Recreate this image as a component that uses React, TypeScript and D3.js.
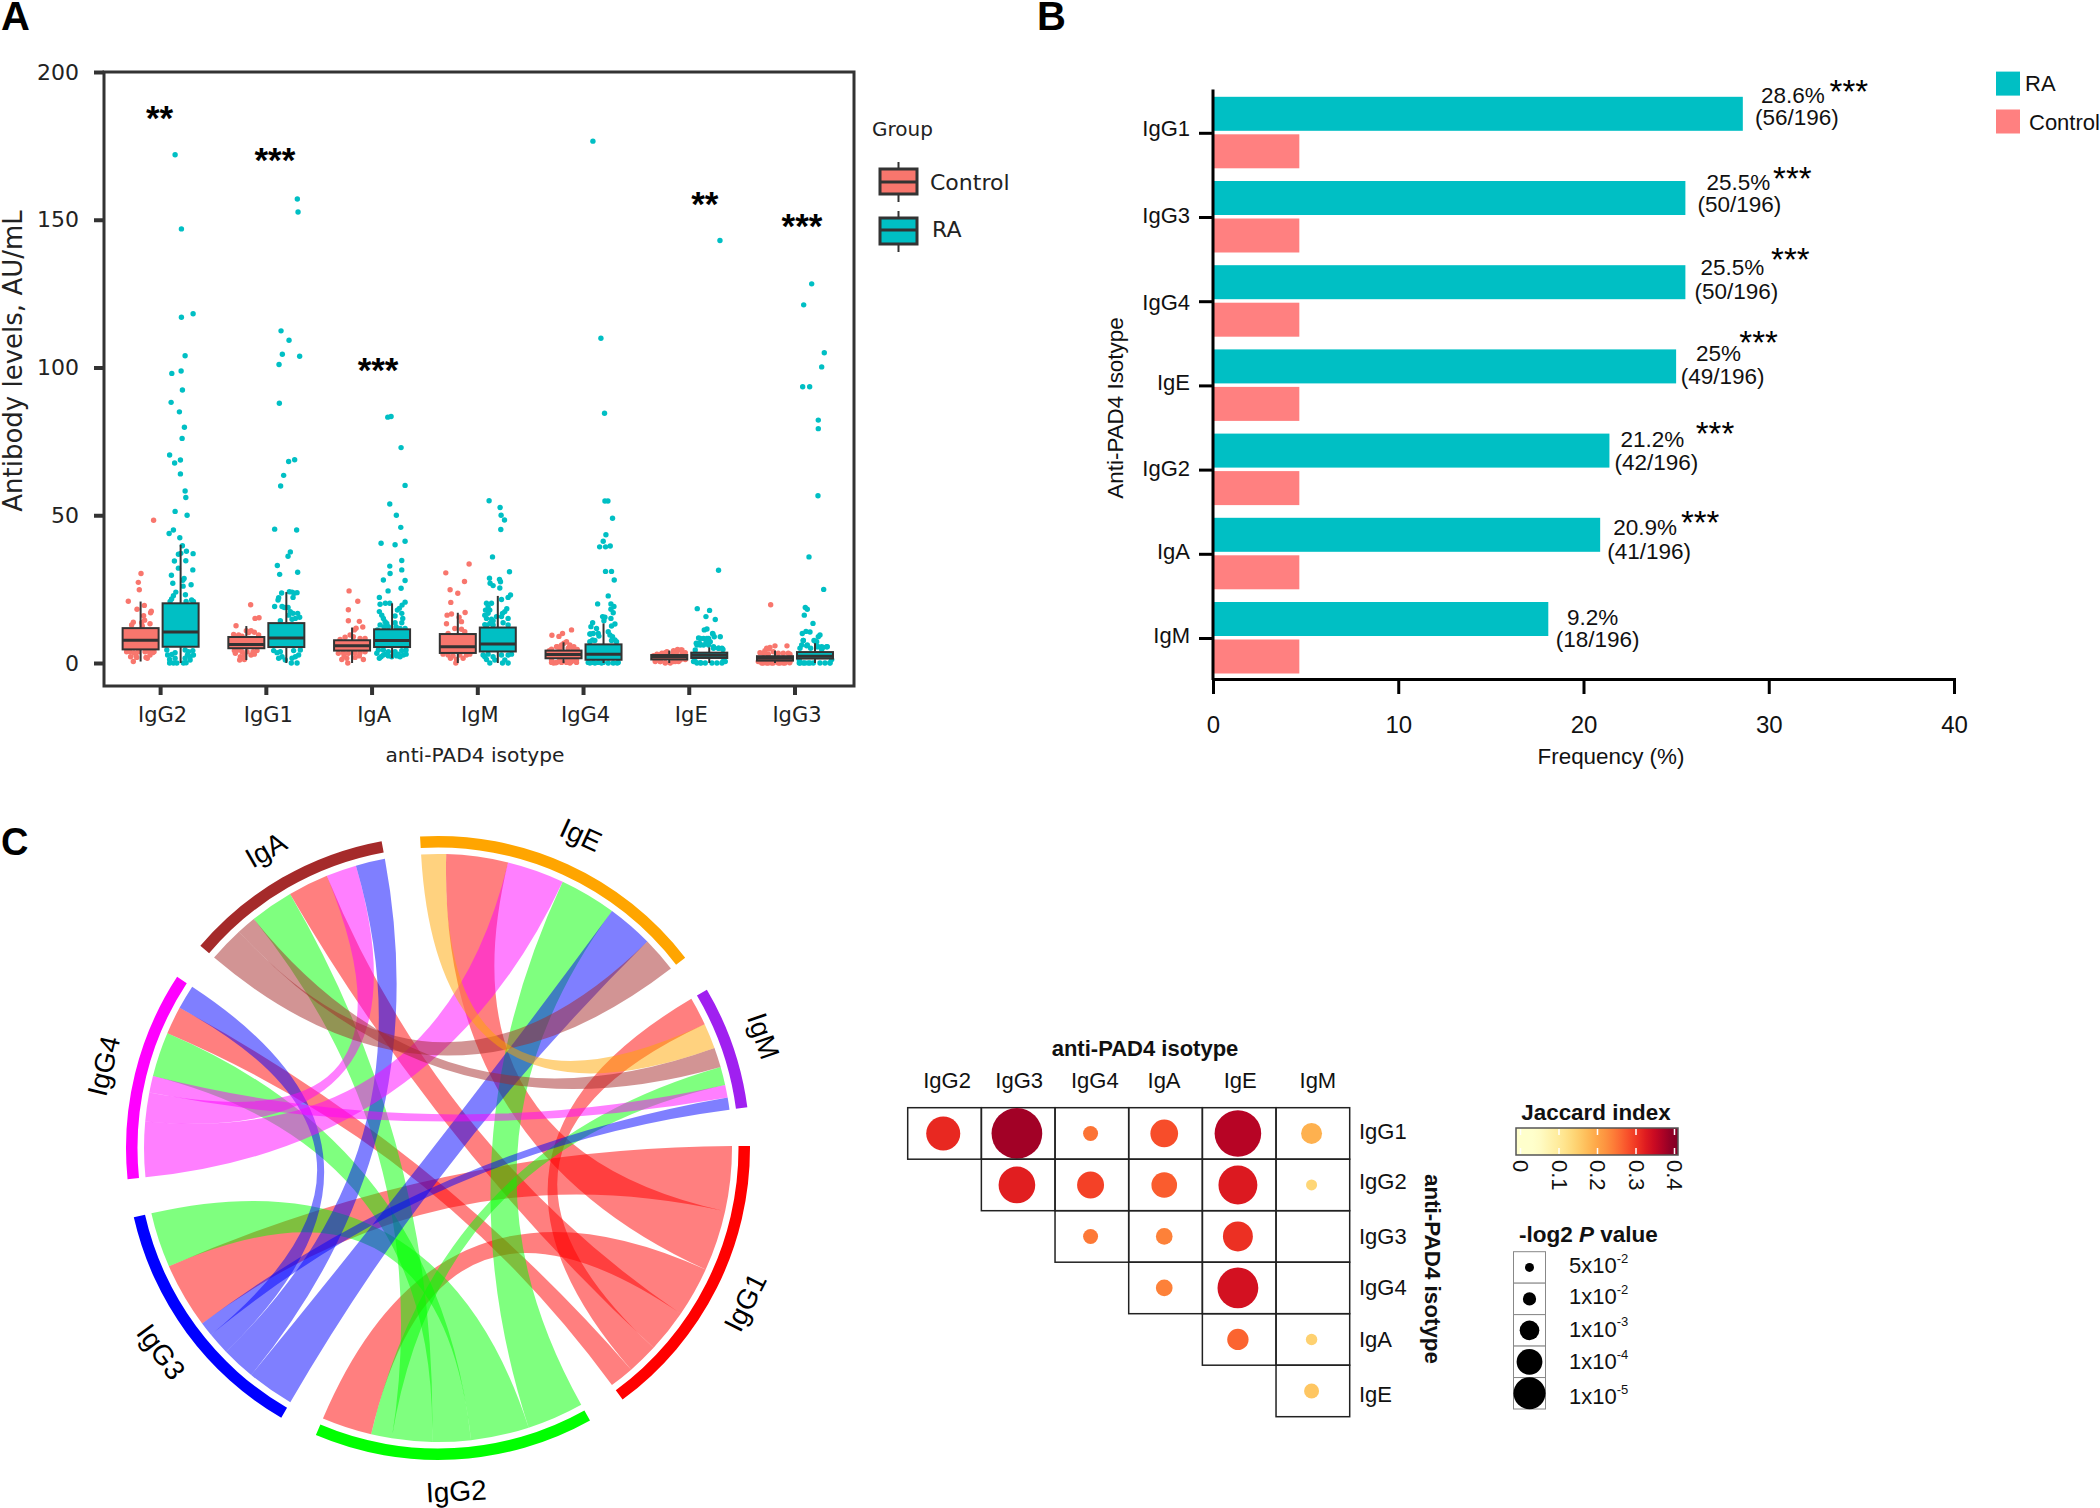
import { useRef, useEffect } from 'react';
import * as d3 from 'd3';

type Pt = [number, number];
type Sel = d3.Selection<any, any, any, any>;

const ARIAL = 'Liberation Sans, Arial, sans-serif';
const DEJAVU = 'DejaVu Sans, sans-serif';

// ---- Panel A: box + jitter. Points are [jitter, AU/mL], jitter spans -18..18 over a box width
const BOX_ISOTYPES = ['IgG2', 'IgG1', 'IgA', 'IgM', 'IgG4', 'IgE', 'IgG3'];
const BOX_GROUPS = ['Control', 'RA'];
const Y_TICKS = [0, 50, 100, 150, 200];
// [low, q1, median, q3, high]
const CONTROL_BOXES = [
  [0.5, 4.6, 7.7, 11.8, 20.8],
  [1, 5, 6.3, 8.8, 12.5],
  [0, 4.2, 5.8, 7.7, 12],
  [0, 3.4, 5.5, 9.8, 17],
  [0, 1.6, 2.9, 4.2, 7],
  [0, 1.2, 2.1, 2.7, 4.2],
  [0, 0.8, 1.6, 2.3, 4.2],
];
const RA_BOXES = [
  [0, 5.5, 10.5, 20.2, 40],
  [0, 5.4, 8.5, 13.5, 24],
  [1.6, 5.4, 7.6, 11.4, 20.2],
  [0, 3.9, 6.4, 12, 22.7],
  [0, 1.1, 3, 6.3, 13.4],
  [0, 1.7, 2.6, 3.5, 5.3],
  [0, 1.5, 2.3, 3.7, 6.7],
];
const SIG_LABELS = ['**', '***', '***', '', '', '**', '***'];
const SIG_LEVELS = [186, 172, 101, 0, 0, 157, 149.6];
const SIG_NUDGE = [-1, 8.6, 6, 0, 0, 15.6, 7];

const IGG2_CONTROL: Pt[] = [[13, 48.3], [0.4, 30.3], [-2.3, 27.3], [-1.3, 24.8], [-12.3, 20.9], [-3.6, 18.2], [3.7, 19.5], [10.7, 17.5], [10, 17], [3, 16], [4, 14.5], [-7.3, 13.8], [-9, 12.9], [1, 13.6], [1.7, 12.5], [9.4, 13.3], [-14, 3.8], [-10.6, 3.8], [-6.6, 3.5], [-2.3, 3.8], [4.4, 3.8], [8.7, 3.8], [13.4, 3.8], [-10, 2.1], [-4.6, 2.4], [5.4, 1.9], [9.4, 2.7], [12, 3.5], [-7.3, 0.5], [-3.9, 1.9], [6.7, 1.6]];
const IGG2_RA: Pt[] = [[-5.5, 172], [0.8, 146.9], [0.8, 117], [12.5, 118.2], [4.5, 104], [0.5, 98.8], [-8.8, 98], [1.8, 92.4], [-9.5, 88.2], [-1.2, 85], [3.8, 79.8], [1.5, 76], [-11, 70.4], [-6, 67.7], [-0.2, 68.7], [-0.2, 64], [4.5, 58.2], [5.2, 56], [-5.5, 51.3], [6.5, 50], [-7.2, 45], [-11.5, 43.8], [-0.8, 42.4], [1.8, 39.7], [-2.2, 36.8], [0.2, 37.1], [5.8, 37.8], [12.5, 37], [-6.2, 34.5], [5.2, 34.6], [-2.2, 32.1], [12.2, 31.5], [-9.2, 29.7], [3.5, 28.6], [2.2, 28], [-7.8, 27], [10.5, 26.5], [2.5, 26], [-4.8, 24], [4.8, 23.1], [-7.2, 22.8], [-9, 21.7], [-10.5, 20.8], [5.5, 20.8], [11, 21.3], [12.8, 20.8], [-13, 2.7], [-8.8, 2.9], [7.8, 3.8], [12.2, 4.2], [4.5, 4.4], [-5.5, 3.5], [-11, 1.2], [-5.5, 1.6], [4.5, 1.6], [9.5, 2.1], [-11, 0], [-7.2, 0], [-3.8, 0], [2.8, 0], [5.5, 0.1], [9.5, 1], [12.8, 2.7], [6.8, 2.7], [-13.8, 4.4]];
const IGG1_CONTROL: Pt[] = [[4.3, 19.7], [8.7, 15.1], [12.7, 15.3], [-10.3, 12.6], [4.7, 10.9], [8, 10.4], [12.3, 9.5], [-12.7, 9.7], [-7.7, 9.5], [-4.3, 9.1], [0, 10.9], [2.3, 10.3], [-12, 4.2], [-7.7, 4.4], [-4.3, 3.8], [0.7, 3.8], [6.7, 3.8], [10.7, 4.2], [-11, 3.3], [-6, 2.1], [-2, 2.7], [-6.7, 1], [-2, 1.2], [8, 3], [4.7, 2.7]];
const IGG1_RA: Pt[] = [[11, 157], [11.7, 152.6], [-5.3, 112.4], [2.7, 109.2], [-4, 104.5], [13.3, 103.8], [-7.3, 101], [-7, 87.9], [2.3, 68.2], [8.3, 68.8], [-2.7, 63.5], [-5.7, 59.9], [-11.7, 45.3], [10.3, 45], [4, 37.6], [1.7, 36.1], [-9, 33], [-6.7, 30], [11.3, 30.7], [-4.7, 23.7], [3, 24.1], [5.7, 24], [8, 23.6], [10.7, 23.8], [6.7, 22.2], [-7.7, 22.1], [-8.3, 21.3], [-11.7, 19.1], [-4.3, 19.1], [-2, 18.8], [1.7, 18.8], [4, 17.4], [2.3, 16.2], [6.7, 16.8], [11.3, 16.8], [13.3, 15.5], [9, 15.1], [-6, 14.3], [5.7, 14.8], [-12.7, 4.2], [-6, 3.8], [-9.3, 3.5], [7.3, 4.2], [12.3, 2.7], [9, 2.1], [-4.3, 2.1], [14, 4.4], [5, 0], [10.7, 0], [-1, 1], [-7.7, 1.6], [5.7, 1.6]];
const IGA_CONTROL: Pt[] = [[-3, 24.4], [5.7, 20.9], [-3.7, 18], [-3.7, 14.3], [7.3, 14.1], [10.7, 12.2], [4, 11.8], [2.3, 11.2], [-2, 9.5], [-7, 8.7], [-12, 8], [13, 8.3], [8, 8.3], [1.3, 8.9], [-13.7, 3.3], [-8.7, 3.5], [-3.7, 3.3], [3, 3.5], [8, 3.5], [13, 3.8], [-10.3, 1.2], [-5.3, 1.6], [-4.3, 0], [3, 1.9], [11.3, 1.2], [-8, 2.4], [7.3, 2.4]];
const IGA_RA: Pt[] = [[-4.3, 83.2], [-1, 83.4], [9, 72.9], [13, 60.1], [-2.3, 53.8], [4.3, 50], [8.7, 45.9], [-11, 40.5], [3, 40], [13, 41.2], [9.7, 34.7], [-2.3, 32.8], [9.7, 31.5], [-2, 30.3], [-8.7, 28.1], [13, 27.9], [9, 25.3], [-4, 24.4], [-12.7, 22.2], [13, 20.6], [-12, 19.9], [-6.7, 20.2], [-2.3, 20.2], [10, 19.6], [7.3, 18.5], [5.3, 17.9], [-12.7, 17.4], [-10.3, 16.2], [-8.7, 15.1], [-7, 14], [3, 15.9], [9.7, 16.8], [10.7, 15.1], [3, 13.6], [9.7, 13.6], [-12, 12.9], [-8, 12.3], [8, 11.7], [-13.7, 4.4], [-8.7, 4.4], [-3.7, 3.8], [3, 3.8], [9.7, 4.2], [14, 4.4], [-12.7, 1.6], [-8.7, 2.7], [-3.7, 2.4], [4.7, 2.4], [11.3, 2.7], [8, 2.1], [-15.3, 3.3], [-11, 2.1], [-6.3, 3], [-0.3, 2.1], [6.3, 3], [14, 3], [2, 3], [-14.7, 11.2], [-3.7, 12.3], [4, 12.3], [13, 11.7], [-5.3, 13.4]];
const IGM_CONTROL: Pt[] = [[11.3, 33.5], [-12, 30.5], [6.7, 27.6], [-7.7, 24.8], [0, 23.6], [-7, 20.5], [7.3, 17.1], [-10.7, 16.2], [-6.3, 16.6], [1.3, 15.5], [3.7, 14], [-11.3, 13.3], [-3, 11.7], [3.7, 11.4], [7, 10.6], [-9.7, 10], [-14.7, 3], [-9.7, 2.7], [-4.7, 2.4], [2, 2.7], [8.7, 2.7], [-7.3, 1.6], [-1.3, 1.2], [5.3, 1.6], [-2, 0], [12, 3]];
const IGM_RA: Pt[] = [[-8.7, 54.9], [2.3, 52.6], [3.3, 50], [6.7, 48.4], [3, 45.2], [-5.3, 35.9], [11.7, 30.9], [-8.3, 28.7], [1.7, 28.3], [2.7, 27.5], [-7.7, 27], [-4.7, 26.2], [2, 25.4], [12.7, 23], [10.3, 22.2], [3.7, 21.5], [-11.3, 20.2], [-6.3, 20.2], [-12.3, 17.9], [-8, 17.9], [-9.7, 16.8], [9, 18.4], [4.7, 16.8], [7, 17.4], [-11.3, 15.1], [-6.3, 14.8], [10.3, 15.1], [-8, 13.4], [5.3, 13.6], [-4.7, 12.9], [10.3, 12.9], [-14.7, 2.7], [-9.7, 3], [-4.7, 2.1], [3.7, 2.7], [10.3, 2.7], [13.7, 3], [-11.3, 1.2], [-8, 0], [-3, 1], [7, 1], [10.3, 0], [4.7, 0], [-13, 2.1], [-13, 13], [-4.7, 14.3], [-1.3, 15.7], [3.7, 15.7], [-11.3, 12.7], [-9.7, 19], [-13, 16.2]];
const IGG4_CONTROL: Pt[] = [[8, 11.2], [-1, 10], [-4.6, 9], [-11.6, 9.4], [3, 7.2], [0.4, 6.7], [6.4, 5.5], [9.7, 5], [-7, 5.5], [-12, 4.7], [-2, 5.5], [-12, 1], [-7.6, 0.1], [-3.6, 0.8], [3.7, 0.8], [8, 0.5], [13, 1], [-10, 0], [6.4, 0], [-12, 0.2], [-7, 0.2], [-2, 0.2], [3, 0.2], [13, 0.2], [-3.7, 1], [4.7, 1], [11.3, 1], [-6.3, 5.5], [-2, 6.1], [6.3, 6.1], [10.3, 5.5], [13.7, 4.6], [-3.7, 5], [4.7, 5], [-14.3, 4.2]];
const IGG4_RA: Pt[] = [[-10.6, 176.6], [-2.6, 109.9], [1, 84.5], [1.4, 54.8], [4.4, 54.8], [9, 49], [2.4, 43.4], [-0.3, 41.2], [-3.9, 39.3], [2, 39.3], [6.7, 39.6], [2, 31], [8, 31], [10.7, 28.1], [4.7, 22.7], [-5.9, 20], [7.4, 20], [10.4, 19.1], [7.4, 18.2], [9.7, 17], [-0.9, 15.7], [1.4, 15.5], [7.4, 15.1], [0.4, 14.3], [11.4, 13.2], [8, 12.5], [-10.9, 13.6], [-12.6, 12.3], [-7, 11.7], [-13, 9.8], [-5.3, 10], [4.7, 10.6], [6.4, 9.5], [9, 8.9], [-10.9, 7.8], [-4.6, 9.1], [11.4, 7.8], [-13.6, 0], [-8.6, 0], [-2, 0], [4.7, 0], [9.7, 0], [13.7, 0], [-15.3, 0.2], [-10.3, 0.2], [-5.3, 0.2], [-0.3, 0.2], [14.7, 0.2], [-13.7, 7.2], [-8.7, 7.6], [8, 7.6], [13, 7.2], [-10.3, 10], [-13.7, 9.8]];
const IGE_CONTROL: Pt[] = [[11.7, 4.4], [7.7, 3.8], [3.7, 3.5], [-2.3, 3.8], [-7.3, 3.3], [-12.3, 3], [9.3, 0.5], [4.3, 0.5], [-4, 0.2], [-9, 0.5], [12.7, 3], [-14, 0.5], [-15.7, 2.5], [-8.3, 2.9], [-4, 3.5], [4.3, 4.2], [8.3, 4.6], [12.7, 4.4], [16, 3.5], [-14, 1], [-9, 0.5], [-4, 0], [1, 0], [6, 0.5], [11, 1], [16, 1.2]];
const IGE_RA: Pt[] = [[10.7, 143], [9.3, 31.4], [-12, 18.4], [0.3, 17.8], [-3.3, 15.7], [6, 14.7], [-2.3, 11.5], [-5, 11.2], [3.3, 10], [-10.7, 8.5], [-5.7, 8.3], [-0.7, 8.3], [5, 8.9], [11, 8.9], [-3, 7.2], [1, 7.2], [-13, 6.7], [-9, 6.1], [12.7, 5], [9.3, 5], [4.3, 5], [-14, 0.5], [-9, 0.1], [-4, 0], [2.7, 0], [7.7, 0], [13.7, 0.5], [-15.7, 0.5], [-12.3, 0], [-8.3, 0], [12.7, 0], [16, 0.5], [-12.3, 6.1], [-9.7, 6.7], [-5.7, 6.1], [-0.7, 6.1], [4.3, 5.5], [9.3, 5], [13.7, 4.6], [-14, 4.4], [-9, 8.3], [-2.3, 8.3], [3.7, 9.8]];
const IGG3_CONTROL: Pt[] = [[-4.3, 19.7], [0, 5.8], [12, 5.8], [-6, 4.7], [-10, 4.2], [8.3, 3.3], [-13.3, 0], [-8.3, 0], [-3.3, 0], [3.3, 0], [8.3, 0], [14.7, 0.1], [-11.7, 3.3], [-6.7, 3], [15, 3], [-8.3, 5], [-5, 5.3], [-10, 3.5], [-15, 3.5], [-1.7, 3.8], [3.3, 3.3], [13.3, 3.3], [-16.7, 0.5], [-11.7, 0], [-6.7, 0], [-1.7, 0], [5, 0], [10, 0], [15, 0.5]];
const IGG3_RA: Pt[] = [[-3.3, 128.3], [-11.3, 121.2], [9.3, 105], [6.7, 100.2], [-12.3, 93.5], [-5.3, 93.5], [3.3, 82.2], [3.3, 79.3], [3, 56.6], [-6, 35.9], [8.7, 24.9], [-9.7, 18.8], [-7.7, 18.2], [-10.7, 16.2], [-2, 13.4], [-12.7, 10], [-9, 10.7], [-5, 10.5], [5, 9.5], [3.3, 8.9], [-11.7, 7.6], [0.7, 7.3], [-7.7, 6.1], [11.7, 5.5], [6.7, 5.5], [-15, 5], [1.7, 5.5], [-15.7, 0], [-11.7, 0], [-6.7, 0], [-1.7, 0], [5, 0], [10, 0], [15, 0.1], [-15, 0], [-10, 0], [-5, 0], [15, 0], [-15.7, 1], [16.7, 1.2], [-13.3, 6.1], [-8.3, 5.8], [-11.7, 7.6], [-4.3, 5], [3.3, 5.5], [8.3, 5.3], [12.3, 5.5], [6.7, 4.6], [1.7, 7.2], [-1, 7.6]];
const CONTROL_POINTS = [IGG2_CONTROL, IGG1_CONTROL, IGA_CONTROL, IGM_CONTROL, IGG4_CONTROL, IGE_CONTROL, IGG3_CONTROL];
const RA_POINTS = [IGG2_RA, IGG1_RA, IGA_RA, IGM_RA, IGG4_RA, IGE_RA, IGG3_RA];

// ---- Panel B
const FREQ_ISOTYPES = ['IgG1', 'IgG3', 'IgG4', 'IgE', 'IgG2', 'IgA', 'IgM'];
const FREQ_RA = [28.6, 25.5, 25.5, 25, 21.4, 20.9, 18.1];
const FREQ_CONTROL = [4.66, 4.66, 4.66, 4.66, 4.66, 4.66, 4.66];
const FREQ_PCT = ['28.6%', '25.5%', '25.5%', '25%', '21.2%', '20.9%', '9.2%'];
const FREQ_COUNT = ['(56/196)', '(50/196)', '(50/196)', '(49/196)', '(42/196)', '(41/196)', '(18/196)'];
const FREQ_STARS = ['***', '***', '***', '***', '***', '***', ''];
const FREQ_TICKS = [0, 10, 20, 30, 40];
// label nudges from the bar end / tick: [pct dx, pct dy, count dx, count dy, star dx, star dy]
const FREQ_NUDGE = [
  [50, -37, 54, -15, 106, -49],
  [53, -35, 54, -12.5, 107, -46],
  [47, -33.5, 51, -10, 105, -49.5],
  [42.5, -32, 46.5, -9, 82.5, -50],
  [43, -30, 47, -7, 105.6, -44],
  [45, -26, 49, -2, 100, -39],
  [44.4, -21, 49.4, 1, 0, 0],
];
const FREQ_TICKLABEL_DY = [-4.4, -1.6, 0.8, -3.8, -1.9, -2.6, -3.2];

// ---- Panel C chord: each sector lists its links clockwise as [partner, weight]
const SECTORS = ['IgE', 'IgM', 'IgG1', 'IgG2', 'IgG3', 'IgG4', 'IgA'];
const SECTOR_COLORS = ['#FFA500', '#A020F0', '#FF0000', '#00FF00', '#0000FF', '#FF00FF', '#A52A2A'];
const RIBBON_PRIORITY = ['IgG1', 'IgG2', 'IgG3', 'IgG4', 'IgA', 'IgE', 'IgM'];
const IGE_LINKS: [string, number][] = [['IgM', 4.9], ['IgG1', 12.2], ['IgG4', 11.3], ['IgG2', 11.2], ['IgG3', 9.1], ['IgA', 7]];
const IGM_LINKS: [string, number][] = [['IgG1', 5.6], ['IgE', 5], ['IgA', 3.9], ['IgG2', 3.6], ['IgG4', 2.5], ['IgG3', 2.4]];
const IGG1_LINKS: [string, number][] = [['IgG3', 12.8], ['IgE', 12], ['IgG2', 9.9], ['IgA', 8.5], ['IgM', 6.1], ['IgG4', 4.8]];
const IGG2_LINKS: [string, number][] = [['IgE', 11.2], ['IgG3', 11.5], ['IgG4', 7.6], ['IgA', 7.9], ['IgM', 4.1], ['IgG1', 9.9]];
const IGG3_LINKS: [string, number][] = [['IgE', 9.3], ['IgA', 6.7], ['IgG4', 4.4], ['IgM', 2.8], ['IgG1', 12.9], ['IgG2', 10.9]];
const IGG4_LINKS: [string, number][] = [['IgE', 10.9], ['IgA', 5.7], ['IgM', 3.3], ['IgG2', 8.8], ['IgG1', 5.5], ['IgG3', 4.8]];
const IGA_LINKS: [string, number][] = [['IgE', 7], ['IgM', 3.8], ['IgG2', 8.6], ['IgG1', 8], ['IgG4', 6], ['IgG3', 5.8]];
const SECTOR_LINKS = [IGE_LINKS, IGM_LINKS, IGG1_LINKS, IGG2_LINKS, IGG3_LINKS, IGG4_LINKS, IGA_LINKS];

// ---- Panel C matrix
const MATRIX_COLS = ['IgG2', 'IgG3', 'IgG4', 'IgA', 'IgE', 'IgM'];
const MATRIX_ROWS = ['IgG1', 'IgG2', 'IgG3', 'IgG4', 'IgA', 'IgE'];
const JACCARD = [
  [0.3125, 0.378, 0.25, 0.281, 0.3625, 0.186],
  [null, 0.322, 0.292, 0.269, 0.328, 0.139],
  [null, null, 0.246, 0.238, 0.306, null],
  [null, null, null, 0.238, 0.3375, null],
  [null, null, null, null, 0.262, 0.146],
  [null, null, null, null, null, 0.161],
];
const LOG2P = [
  [17.7, 26.6, 7.5, 14.3, 24.4, 10.7],
  [null, 19.1, 13.9, 13.2, 20.3, 5.4],
  [null, null, 7.5, 8.4, 15.5, null],
  [null, null, null, 8.4, 21.3, null],
  [null, null, null, null, 10.9, 5.6],
  [null, null, null, null, null, 7.5],
];
const COL_LABEL_NUDGE = [0.5, -1, 1, -3.5, -1, 3];
const ROW_LABEL_NUDGE = [-2, -3, 0, 0, 0, 4];
const JACCARD_TICKS = [0, 0.1, 0.2, 0.3, 0.4];
const COLOR_DOMAIN = [0, 0.04, 0.1, 0.2, 0.3, 0.4];
const COLOR_POSITIONS = [0, 0, 0.14, 0.42, 0.68, 1];
const P_LEGEND_VALUES = [4.3, 6.6, 10, 13.3, 16.6];
const P_LEGEND_MANTISSA = ['5x10', '1x10', '1x10', '1x10', '1x10'];
const P_LEGEND_EXP = ['-2', '-2', '-3', '-4', '-5'];

function label(g: Sel, x: number, y: number, str: string, size: number, opts: any = {}) {
  const t = g.append('text')
    .attr('x', x).attr('y', y)
    .attr('font-family', opts.family || ARIAL)
    .attr('font-size', size)
    .attr('font-weight', opts.weight || 'normal')
    .attr('fill', opts.fill || '#111')
    .attr('text-anchor', opts.anchor || 'middle')
    .attr('dominant-baseline', opts.baseline || 'central')
    .text(str);
  if (opts.transform) t.attr('transform', opts.transform);
  return t;
}

// asterisks ride high in the em box, so y here is the visual centre of the glyph
function stars(g: Sel, x: number, y: number, str: string, size: number, weight: string) {
  label(g, x, y + size * 0.575, str, size, { weight, baseline: 'auto', fill: '#000' });
}

function drawBoxPanel(svg: Sel) {
  const g = svg.append('g');
  const x = d3.scaleBand().domain(BOX_ISOTYPES).range([107.75, 847.85]);
  const dodge = d3.scalePoint().domain(BOX_GROUPS).range([-20, 20]);
  const y = d3.scaleLinear().domain([0, 200]).range([663, 72]);
  const jitter = d3.scaleLinear().domain([-18, 18]).range([-18, 18]);
  const groupColor = d3.scaleOrdinal<string>().domain(BOX_GROUPS).range(['#F8766D', '#00BFC4']);
  const boxW = 36;
  const ink = '#333';

  BOX_GROUPS.forEach((group) => {
    const pts = group === 'Control' ? CONTROL_POINTS : RA_POINTS;
    BOX_ISOTYPES.forEach((iso, i) => {
      const cx = x(iso)! + x.bandwidth() / 2 + dodge(group)!;
      g.append('g').selectAll('circle').data(pts[i]).join('circle')
        .attr('cx', (d) => cx + jitter(d[0]))
        .attr('cy', (d) => y(d[1]))
        .attr('r', 2.7)
        .attr('fill', groupColor(group));
    });
  });

  BOX_GROUPS.forEach((group) => {
    const boxes = group === 'Control' ? CONTROL_BOXES : RA_BOXES;
    BOX_ISOTYPES.forEach((iso, i) => {
      const [lo, q1, med, q3, hi] = boxes[i];
      const cx = x(iso)! + x.bandwidth() / 2 + dodge(group)!;
      const b = g.append('g').attr('stroke', ink);
      b.append('line').attr('x1', cx).attr('x2', cx).attr('y1', y(lo)).attr('y2', y(hi)).attr('stroke-width', 2);
      b.append('rect').attr('x', cx - boxW / 2).attr('width', boxW).attr('y', y(q3)).attr('height', y(q1) - y(q3))
        .attr('fill', groupColor(group)).attr('stroke-width', 2);
      b.append('line').attr('x1', cx - boxW / 2).attr('x2', cx + boxW / 2).attr('y1', y(med)).attr('y2', y(med)).attr('stroke-width', 3);
    });
  });

  g.append('rect').attr('x', 104).attr('y', 72).attr('width', 750).attr('height', 614)
    .attr('fill', 'none').attr('stroke', ink).attr('stroke-width', 3);

  const yAxis = g.append('g').attr('transform', 'translate(104,0)')
    .call(d3.axisLeft(y).tickValues(Y_TICKS).tickSize(10).tickPadding(15));
  yAxis.select('.domain').remove();
  yAxis.selectAll('line').attr('stroke', ink).attr('stroke-width', 4);
  yAxis.selectAll('text').attr('font-family', DEJAVU).attr('font-size', 22).attr('fill', '#222');

  const xAxis = g.append('g').attr('transform', 'translate(0,686)')
    .call(d3.axisBottom(x).tickSize(9).tickPadding(12));
  xAxis.select('.domain').remove();
  xAxis.selectAll('line').attr('stroke', ink).attr('stroke-width', 4);
  xAxis.selectAll('text').attr('font-family', DEJAVU).attr('font-size', 21).attr('fill', '#222').attr('x', 2);

  label(g, 475, 755, 'anti-PAD4 isotype', 20.2, { family: DEJAVU, fill: '#222' });
  label(g, 0, 0, 'Antibody levels, AU/mL', 26, { family: DEJAVU, fill: '#222', transform: 'translate(13,361) rotate(-90)' });

  SIG_LABELS.forEach((s, i) => {
    if (s) stars(g, x(BOX_ISOTYPES[i])! + x.bandwidth() / 2 + SIG_NUDGE[i], y(SIG_LEVELS[i]) - 3, s, 35, 'bold');
  });

  // legend
  label(g, 872, 129, 'Group', 20, { family: DEJAVU, anchor: 'start', fill: '#222' });
  [[162, 169, 182, 194, 202], [211, 218, 230, 244, 252]].forEach((k, i) => {
    const b = g.append('g').attr('stroke', ink);
    b.append('line').attr('x1', 898.5).attr('x2', 898.5).attr('y1', k[0]).attr('y2', k[4]).attr('stroke-width', 2);
    b.append('rect').attr('x', 880).attr('y', k[1]).attr('width', 37).attr('height', k[3] - k[1])
      .attr('fill', groupColor(BOX_GROUPS[i])).attr('stroke-width', 3);
    b.append('line').attr('x1', 880).attr('x2', 917).attr('y1', k[2]).attr('y2', k[2]).attr('stroke-width', 3);
  });
  label(g, 930, 182, BOX_GROUPS[0], 22, { family: DEJAVU, anchor: 'start', fill: '#222' });
  label(g, 932, 229, BOX_GROUPS[1], 22, { family: DEJAVU, anchor: 'start', fill: '#222' });
}

function drawFreqPanel(svg: Sel) {
  const g = svg.append('g');
  const x = d3.scaleLinear().domain([0, 40]).range([1213, 1954]);
  const tickY = d3.scalePoint().domain(FREQ_ISOTYPES).range([132.8, 638]);
  const barH = 34;
  const teal = '#00BFC4';
  const pink = '#FF8080';

  FREQ_ISOTYPES.forEach((iso, i) => {
    const ty = tickY(iso)!;
    g.append('rect').attr('x', x(0)).attr('y', ty - barH - 2).attr('width', x(FREQ_RA[i]) - x(0)).attr('height', barH).attr('fill', teal);
    g.append('rect').attr('x', x(0)).attr('y', ty + 1.5).attr('width', x(FREQ_CONTROL[i]) - x(0)).attr('height', barH).attr('fill', pink);
    const end = x(FREQ_RA[i]);
    const n = FREQ_NUDGE[i];
    label(g, end + n[0], ty + n[1], FREQ_PCT[i], 22.5);
    label(g, end + n[2], ty + n[3], FREQ_COUNT[i], 22.5);
    if (FREQ_STARS[i]) stars(g, end + n[4], ty + n[5], FREQ_STARS[i], 33, 'normal');
  });

  const xAxis = g.append('g').attr('transform', 'translate(0,679)')
    .call(d3.axisBottom(x).tickValues(FREQ_TICKS).tickSize(15).tickPadding(22));
  xAxis.select('.domain').attr('stroke', '#000').attr('stroke-width', 3);
  xAxis.selectAll('line').attr('stroke', '#000').attr('stroke-width', 3);
  xAxis.selectAll('text').attr('font-family', ARIAL).attr('font-size', 24).attr('fill', '#111');

  const yAxis = g.append('g').attr('transform', 'translate(1213,0)')
    .call(d3.axisLeft(tickY).tickSize(14).tickPadding(9));
  yAxis.select('.domain').remove();
  yAxis.append('line').attr('x1', 0).attr('x2', 0).attr('y1', 89.5).attr('y2', 680);
  yAxis.selectAll('line').attr('stroke', '#000').attr('stroke-width', 3);
  yAxis.selectAll('text')
    .attr('font-family', ARIAL).attr('font-size', 22).attr('fill', '#111')
    .attr('dy', null)
    .attr('dominant-baseline', 'central')
    .attr('y', (_d, i) => FREQ_TICKLABEL_DY[i]);

  label(g, 1611, 756, 'Frequency (%)', 22.4);
  label(g, 0, 0, 'Anti-PAD4 Isotype', 22.4, { transform: 'translate(1115,408) rotate(-90)' });

  g.append('rect').attr('x', 1996).attr('y', 71.6).attr('width', 24).attr('height', 24).attr('fill', teal);
  g.append('rect').attr('x', 1996).attr('y', 109.5).attr('width', 24).attr('height', 24).attr('fill', pink);
  label(g, 2025, 83, 'RA', 22, { anchor: 'start' });
  label(g, 2029, 122, 'Control', 22, { anchor: 'start' });
}

function drawChord(svg: Sel) {
  const g = svg.append('g').attr('transform', 'translate(438,1148)');
  const rad = d3.scaleLinear().domain([0, 360]).range([0, 2 * Math.PI]);
  const total = d3.sum(SECTOR_LINKS.flat(), (d) => d[1]);
  const gap = (360 - total) / SECTORS.length;

  // walk the sectors clockwise and hand out angles
  const ends: Record<string, { startAngle: number; endAngle: number }> = {};
  const sectorAngles: { startAngle: number; endAngle: number }[] = [];
  let cursor = -3.3;
  SECTORS.forEach((name, i) => {
    const start = cursor;
    SECTOR_LINKS[i].forEach(([partner, w]) => {
      ends[`${name}|${partner}`] = { startAngle: rad(cursor), endAngle: rad(cursor + w) };
      cursor += w;
    });
    sectorAngles.push({ startAngle: rad(start), endAngle: rad(cursor) });
    cursor += gap;
  });

  const ribbon = d3.ribbon<any, any>().radius(294);
  const colorOf = (name: string) => SECTOR_COLORS[SECTORS.indexOf(name)];
  RIBBON_PRIORITY.forEach((name, p) => {
    RIBBON_PRIORITY.slice(p + 1).forEach((other) => {
      g.append('path')
        .attr('d', ribbon({ source: ends[`${name}|${other}`], target: ends[`${other}|${name}`] }) as unknown as string)
        .attr('fill', colorOf(name))
        .attr('fill-opacity', 0.5);
    });
  });

  const ring = d3.arc<any>().innerRadius(300.5).outerRadius(312);
  SECTORS.forEach((name, i) => {
    const a = sectorAngles[i];
    g.append('path').attr('d', ring(a)!).attr('fill', SECTOR_COLORS[i]);
    const mid = ((a.startAngle + a.endAngle) / 2) * (180 / Math.PI);
    const lx = 344 * Math.sin(rad(mid));
    const ly = -344 * Math.cos(rad(mid));
    const norm = ((mid % 360) + 360) % 360;
    const rot = norm > 90 && norm < 270 ? norm - 180 : norm;
    label(g, 0, 0, name, 28, { fill: '#000', transform: `translate(${lx},${ly}) rotate(${rot})` });
  });
}

function drawMatrix(svg: Sel) {
  const g = svg.append('g');
  const x = d3.scaleBand().domain(MATRIX_COLS).range([907.7, 1349.7]);
  const y = d3.scaleBand().domain(MATRIX_ROWS).range([1107.7, 1416.7]);
  const color = d3.scaleLinear<number>().domain(COLOR_DOMAIN).range(COLOR_POSITIONS).clamp(true);
  const fillOf = (v: number) => d3.interpolateYlOrRd(color(v));
  const size = d3.scaleLinear().domain([4.3, 16.6]).range([9, 32]);

  MATRIX_ROWS.forEach((row, i) => {
    MATRIX_COLS.forEach((col, j) => {
      if (j < i) return;
      g.append('rect').attr('x', x(col)!).attr('y', y(row)!).attr('width', x.bandwidth()).attr('height', y.bandwidth())
        .attr('fill', 'none').attr('stroke', '#222').attr('stroke-width', 1.5);
      const v = JACCARD[i][j];
      const p = LOG2P[i][j];
      if (v == null || p == null) return;
      g.append('circle').attr('cx', x(col)! + x.bandwidth() / 2 - 1.3).attr('cy', y(row)! + y.bandwidth() / 2)
        .attr('r', size(p) / 2).attr('fill', fillOf(v));
    });
  });

  label(g, 1145, 1048, 'anti-PAD4 isotype', 22, { weight: 'bold' });
  label(g, 0, 0, 'anti-PAD4 isotype', 22.4, { weight: 'bold', transform: 'translate(1432,1269) rotate(90)' });
  MATRIX_COLS.forEach((col, j) => {
    label(g, x(col)! + x.bandwidth() / 2 + 2 + COL_LABEL_NUDGE[j], 1080, col, 22);
  });
  MATRIX_ROWS.forEach((row, i) => {
    label(g, 1359, y(row)! + y.bandwidth() / 2 + ROW_LABEL_NUDGE[i], row, 22, { anchor: 'start' });
  });

  // colour bar
  const bar = d3.scaleLinear().domain([0, 0.4]).range([1520.5, 1674.5]);
  const defs = svg.append('defs');
  const grad = defs.append('linearGradient').attr('id', 'jaccard-grad');
  d3.range(0, 1.001, 0.05).forEach((t) => {
    grad.append('stop').attr('offset', t).attr('stop-color', fillOf(bar.invert(1516 + t * 162)));
  });
  g.append('rect').attr('x', 1516).attr('y', 1128).attr('width', 162).attr('height', 27)
    .attr('fill', 'url(#jaccard-grad)').attr('stroke', '#555').attr('stroke-width', 1.5);
  JACCARD_TICKS.forEach((t) => {
    g.append('line').attr('x1', bar(t)).attr('x2', bar(t)).attr('y1', 1129).attr('y2', 1135).attr('stroke', '#fff').attr('stroke-width', 1.5);
    g.append('line').attr('x1', bar(t)).attr('x2', bar(t)).attr('y1', 1148).attr('y2', 1154).attr('stroke', '#fff').attr('stroke-width', 1.5);
    label(g, 0, 0, String(t), 22, { anchor: 'start', transform: `translate(${bar(t)},1160) rotate(90)` });
  });
  label(g, 1596, 1112, 'Jaccard index', 22.4, { weight: 'bold' });

  // size legend
  const titleP = label(g, 1519, 1234, '-log2 ', 22.5, { weight: 'bold', anchor: 'start' });
  titleP.append('tspan').attr('font-style', 'italic').text('P');
  titleP.append('tspan').text(' value');
  const keyY = d3.scaleBand().domain(P_LEGEND_EXP.map((_, i) => String(i))).range([1251.7, 1409]);
  const labelY = [1265.7, 1296.7, 1329, 1361.7, 1396.7];
  P_LEGEND_VALUES.forEach((v, i) => {
    const top = keyY(String(i))!;
    g.append('rect').attr('x', 1513.5).attr('y', top).attr('width', 32).attr('height', keyY.bandwidth())
      .attr('fill', '#fff').attr('stroke', '#888').attr('stroke-width', 1);
    g.append('circle').attr('cx', 1529.5).attr('cy', top + keyY.bandwidth() / 2).attr('r', size(v) / 2).attr('fill', '#000');
    const t = label(g, 1569, labelY[i], P_LEGEND_MANTISSA[i], 22, { anchor: 'start' });
    t.append('tspan').attr('font-size', 13).attr('dy', -8).text(P_LEGEND_EXP[i]);
  });
}

export default function App() {
  const svgRef = useRef<SVGSVGElement>(null);

  useEffect(() => {
    const root = d3.select(svgRef.current);
    root.selectAll('*').remove();

    drawBoxPanel(root);
    drawFreqPanel(root);
    drawChord(root);
    drawMatrix(root);

    label(root, 1, 30, 'A', 40, { weight: 'bold', anchor: 'start', baseline: 'auto', fill: '#000' });
    label(root, 1037, 30, 'B', 40, { weight: 'bold', anchor: 'start', baseline: 'auto', fill: '#000' });
    label(root, 1, 855, 'C', 38, { weight: 'bold', anchor: 'start', baseline: 'auto', fill: '#000' });
  }, []);

  return (
    <svg
      ref={svgRef}
      width={2100}
      height={1508}
      viewBox="0 0 2100 1508"
      style={{ position: 'absolute', left: 0, top: 0, display: 'block', background: '#fff' }}
    />
  );
}
